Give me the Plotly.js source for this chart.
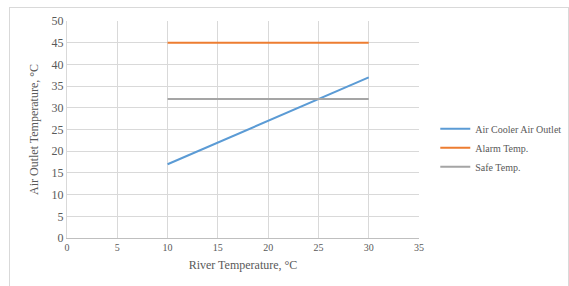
<!DOCTYPE html>
<html><head><meta charset="utf-8">
<script src="https://cdn.plot.ly/plotly-3.0.1.min.js"></script>
<style>
html,body{margin:0;padding:0;background:#fff;}
#frame{position:absolute;left:9px;top:7px;width:560px;height:280px;border:1px solid #d9d9d9;box-sizing:border-box;}
#chart{position:absolute;left:0;top:0;width:569px;height:286px;}
</style></head>
<body>
<div id="frame"></div>
<div id="chart"></div>
<script>
var riverTemp = [10, 15, 20, 25, 30];
var airOutlet = [17, 22, 27, 32, 37];
var alarmTemp = [45, 45, 45, 45, 45];
var safeTemp = [32, 32, 32, 32, 32];
var seriesNames = ["Air Cooler Air Outlet", "Alarm Temp.", "Safe Temp."];
var xTicks = [0, 5, 10, 15, 20, 25, 30, 35];
var yTicks = [0, 5, 10, 15, 20, 25, 30, 35, 40, 45, 50];

var font = {family: "Liberation Serif, Times New Roman, serif", color: "#595959", size: 11};
var traces = [
  {x: riverTemp, y: airOutlet, name: seriesNames[0], mode: "lines", line: {color: "#5b9bd5", width: 2}},
  {x: riverTemp, y: alarmTemp, name: seriesNames[1], mode: "lines", line: {color: "#ed7d31", width: 2}},
  {x: riverTemp, y: safeTemp, name: seriesNames[2], mode: "lines", line: {color: "#a5a5a5", width: 2}}
];
var layout = {
  width: 569, height: 286,
  margin: {l: 67, r: 150, t: 21, b: 48},
  paper_bgcolor: "rgba(0,0,0,0)", plot_bgcolor: "#fff",
  font: font,
  showlegend: true,
  legend: {xref: "container", yref: "container", x: 0.765, y: 0.483, xanchor: "left", yanchor: "middle",
    font: {family: font.family, size: 10, color: "#595959"}, tracegroupgap: 0, itemwidth: 30, bgcolor: "rgba(0,0,0,0)"},
  xaxis: {range: [0, 35], tickvals: xTicks, ticktext: xTicks.map(String), showgrid: true, gridcolor: "#d9d9d9", gridwidth: 1,
    zeroline: false, showline: true, linecolor: "#bfbfbf", ticks: "", tickfont: {size: 10},
    title: {text: "River Temperature, °C", font: {size: 12}, standoff: 8}},
  yaxis: {range: [0, 50], tickvals: yTicks, ticktext: yTicks.map(String), showgrid: true, gridcolor: "#d9d9d9", gridwidth: 1,
    zeroline: false, showline: true, linecolor: "#d9d9d9", ticks: "", tickfont: {size: 12},
    title: {text: "Air Outlet Temperature, °C", font: {size: 12}, standoff: 10}}
};
Plotly.newPlot("chart", traces, layout, {displayModeBar: false, staticPlot: true});
</script>
</body></html>
